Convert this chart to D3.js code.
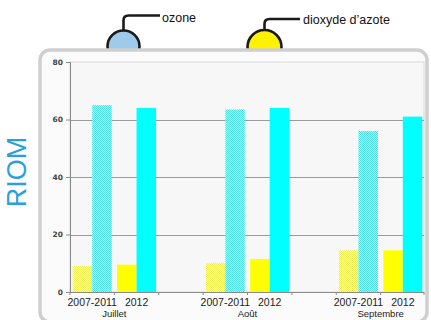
<!DOCTYPE html>
<html>
<head>
<meta charset="utf-8">
<script src="https://cdn.jsdelivr.net/npm/d3@7"></script>
<style>
  html, body { margin: 0; padding: 0; background: #ffffff; }
  svg { display: block; }
</style>
</head>
<body>
<svg id="chart" width="431" height="320"></svg>
<script>
// Monthly means (µg/m³) at the RIOM station
const months = ["Juillet", "Août", "Septembre"];
const periods = ["2007-2011", "2012"];
const ozoneRef = [65, 63.5, 56];      // ozone, 2007-2011 average
const ozone2012 = [64, 64, 61];       // ozone, 2012
const no2Ref = [9, 10, 14.5];         // dioxyde d'azote, 2007-2011 average
const no22012 = [9.5, 11.5, 14.5];    // dioxyde d'azote, 2012
const yTicks = [0, 20, 40, 60, 80];
const legendItems = ["ozone", "dioxyde d’azote"];

const svg = d3.select("#chart");
const defs = svg.append("defs");

// Dotted fills for the 2007-2011 reference bars
function checker(id, light, dark) {
  const p = defs.append("pattern").attr("id", id)
    .attr("width", 2).attr("height", 2).attr("patternUnits", "userSpaceOnUse");
  p.append("rect").attr("width", 2).attr("height", 2).attr("fill", light);
  p.append("rect").attr("width", 1).attr("height", 1).attr("fill", dark);
  p.append("rect").attr("x", 1).attr("y", 1).attr("width", 1).attr("height", 1).attr("fill", dark);
}
checker("hatchO3", "#b6f4f4", "#4fe0e4");
checker("hatchNO2", "#fbfbb0", "#eeee55");

const fills = {
  ozone: { "2007-2011": "url(#hatchO3)", "2012": "#00ffff" },
  no2:   { "2007-2011": "url(#hatchNO2)", "2012": "#ffff00" }
};

// Legend bubbles, partly tucked behind the frame
const legend = [
  { label: legendItems[0], cx: 123.5, cy: 46.5, r: 16, fill: "#9fcbeb", hy: 15.5, hx: 160, tx: 162, ty: 21.5 },
  { label: legendItems[1], cx: 264.5, cy: 47, r: 17, fill: "#fff200", hy: 19, hx: 300, tx: 303, ty: 24 }
];
const lg = svg.append("g");
legend.forEach(d => {
  lg.append("path")
    .attr("d", `M${d.cx},${d.cy - d.r} L${d.cx},${d.hy + 5} Q${d.cx},${d.hy} ${d.cx + 5},${d.hy} L${d.hx},${d.hy}`)
    .attr("fill", "none").attr("stroke", "#1a1a1a").attr("stroke-width", 2.6);
  lg.append("circle").attr("cx", d.cx).attr("cy", d.cy).attr("r", d.r)
    .attr("fill", d.fill).attr("stroke", "#1a1a1a").attr("stroke-width", 2.6);
  lg.append("text").attr("x", d.tx).attr("y", d.ty)
    .attr("font-family", "Liberation Sans, Arial, sans-serif").attr("font-size", 12.5)
    .attr("fill", "#111").text(d.label);
});

// Frame
svg.append("rect").attr("x", 40).attr("y", 50).attr("width", 387).attr("height", 272)
  .attr("rx", 10).attr("fill", "#fbfbfb").attr("stroke", "#cfcfcf").attr("stroke-width", 3.5);

// Station name
svg.append("text")
  .attr("transform", "translate(26,172) rotate(-90)")
  .attr("text-anchor", "middle")
  .attr("font-family", "Liberation Sans, Arial, sans-serif").attr("font-size", 27)
  .attr("fill", "#2a9fdc").text("RIOM");

// Scales
const plot = { left: 70, right: 424, top: 62, bottom: 292 };
const slots = [];
months.forEach((m, i) => {
  periods.forEach(p => slots.push(m + "|" + p));
  if (i < months.length - 1) slots.push(m + "|gap");
});
const x = d3.scaleBand().domain(slots).range([plot.left, plot.right + 1]).padding(0);
const y = d3.scaleLinear().domain([0, 80]).range([plot.bottom, plot.top]);
const inner = d3.scaleBand().domain(["no2", "ozone"]).range([-19.5, 19.5]);

// Plot area
svg.append("rect").attr("x", plot.left).attr("y", plot.top)
  .attr("width", plot.right - plot.left).attr("height", plot.bottom - plot.top)
  .attr("fill", "#f7f7f7").attr("stroke", "#dadada").attr("stroke-width", 1);

// Grid lines
svg.append("g").selectAll("line").data(yTicks.filter(t => t > 0 && t < 80)).join("line")
  .attr("x1", plot.left).attr("x2", plot.right)
  .attr("y1", d => Math.round(y(d)) + 0.5).attr("y2", d => Math.round(y(d)) + 0.5)
  .attr("stroke", "#9a9a9a").attr("stroke-width", 1);

// Bars
const bars = [];
months.forEach((m, i) => {
  bars.push({ slot: m + "|2007-2011", pol: "no2", v: no2Ref[i], period: "2007-2011" });
  bars.push({ slot: m + "|2007-2011", pol: "ozone", v: ozoneRef[i], period: "2007-2011" });
  bars.push({ slot: m + "|2012", pol: "no2", v: no22012[i], period: "2012" });
  bars.push({ slot: m + "|2012", pol: "ozone", v: ozone2012[i], period: "2012" });
});
svg.append("g").selectAll("rect").data(bars).join("rect")
  .attr("x", d => x(d.slot) + x.bandwidth() / 2 + inner(d.pol))
  .attr("width", inner.bandwidth())
  .attr("y", d => y(d.v))
  .attr("height", d => y(0) - y(d.v))
  .attr("fill", d => fills[d.pol][d.period]);

// Y axis
const yAxis = svg.append("g").attr("transform", `translate(${plot.left},0)`)
  .call(d3.axisLeft(y).tickValues(yTicks).tickSize(4).tickPadding(3));
yAxis.select(".domain").attr("stroke", "#8a8a8a");
yAxis.selectAll(".tick line").attr("stroke", "#8a8a8a");
yAxis.selectAll("text").attr("font-family", "DejaVu Sans, Verdana, sans-serif")
  .attr("font-weight", "bold").attr("font-size", 7.5).attr("fill", "#444");

// X axis with ticks at the band edges
const edges = slots.map(s => x(s)).concat([plot.right]);
const xg = svg.append("g");
xg.append("line").attr("x1", plot.left).attr("x2", plot.right)
  .attr("y1", plot.bottom + 0.5).attr("y2", plot.bottom + 0.5).attr("stroke", "#8a8a8a");
xg.selectAll("line.t").data(edges).join("line").attr("class", "t")
  .attr("x1", d => d).attr("x2", d => d)
  .attr("y1", plot.bottom).attr("y2", plot.bottom + 3).attr("stroke", "#8a8a8a");

// Period labels
const periodLabels = [];
months.forEach(m => periods.forEach(p => periodLabels.push({ slot: m + "|" + p, text: p })));
xg.selectAll("text.p").data(periodLabels).join("text").attr("class", "p")
  .attr("x", d => x(d.slot) + x.bandwidth() / 2)
  .attr("y", 305.5)
  .attr("text-anchor", "middle")
  .attr("font-family", "Liberation Sans, Arial, sans-serif").attr("font-size", 10.5)
  .attr("fill", "#222").text(d => d.text);

// Month labels, centred under each pair
xg.selectAll("text.m").data(months).join("text").attr("class", "m")
  .attr("x", m => x(m + "|2012"))
  .attr("y", 317)
  .attr("text-anchor", "middle")
  .attr("font-family", "Liberation Sans, Arial, sans-serif").attr("font-size", 9.5)
  .attr("fill", "#222").text(m => m);
</script>
</body>
</html>
